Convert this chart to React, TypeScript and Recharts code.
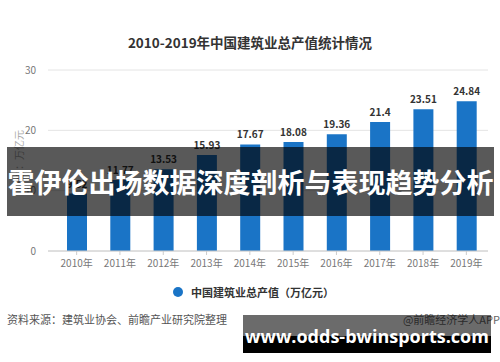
import React from "react";
import { BarChart, Bar, XAxis, YAxis, CartesianGrid, LabelList } from "recharts";

const years = ["2010年", "2011年", "2012年", "2013年", "2014年", "2015年", "2016年", "2017年", "2018年", "2019年"];
const outputValues = [9.52, 11.77, 13.53, 15.93, 17.67, 18.08, 19.36, 21.4, 23.51, 24.84];
const yTicks = [0, 10, 20, 30];
const seriesName = "中国建筑业总产值（万亿元）";
const titleText = "2010-2019年中国建筑业总产值统计情况";
const unitText = "单位：万亿元";
const sourceText = "资料来源：建筑业协会、前瞻产业研究院整理";
const creditText = "@前瞻经济学人APP";
const bannerText = "霍伊伦出场数据深度剖析与表现趋势分析";
const siteText = "www.odds-bwinsports.com";

const data = years.map((y, i) => ({ year: y, value: outputValues[i] }));

const FONT = '"Noto Sans CJK SC", "Noto Sans", sans-serif';
const BLUE = "#1a74c6";

export default function App() {
  return (
    <div style={{ position: "absolute", left: 0, top: 0, width: 500, height: 362, background: "#fff", overflow: "hidden", fontFamily: FONT }}>
      <BarChart
        width={500}
        height={362}
        data={data}
        margin={{ top: 70, right: 12, bottom: 91, left: 0 }}
      >
        <text x={250} y={48} textAnchor="middle" fontSize={13.5} fontWeight="bold" fill="#333" fontFamily={FONT}>
          {titleText}
        </text>
        <CartesianGrid horizontal vertical={false} stroke="#e4e4e4" />
        <XAxis
          dataKey="year"
          height={20}
          padding={{ left: 7, right: 0 }}
          tick={{ fontSize: 10, fill: "#777", fontFamily: FONT }}
          tickLine={{ stroke: "#ccc" }}
          axisLine={{ stroke: "#ccc" }}
          tickSize={4}
          tickMargin={5}
          interval={0}
        />
        <YAxis
          width={48}
          domain={[0, 30]}
          ticks={yTicks}
          axisLine={false}
          tickLine={false}
          tick={{ fontSize: 10, fill: "#777", fontFamily: FONT }}
          tickMargin={6}
        />
        <text
          x={20}
          y={160}
          transform="rotate(-90 20 160)"
          textAnchor="middle"
          dominantBaseline="middle"
          fontSize={10}
          fill="#aaa"
          fontFamily={FONT}
        >
          {unitText}
        </text>
        <Bar dataKey="value" name={seriesName} fill={BLUE} barSize={20} isAnimationActive={false}>
          <LabelList dataKey="value" position="top" offset={6} fontSize={10} fontWeight="bold" fill="#333" fontFamily={FONT} />
        </Bar>
      </BarChart>

      {/* legend */}
      <div style={{ position: "absolute", top: 284, left: 173, display: "flex", alignItems: "center", fontSize: 11, color: "#333", fontWeight: "bold" }}>
        <span style={{ display: "inline-block", width: 10, height: 10, borderRadius: 5, background: BLUE, marginRight: 8 }} />
        <span>{seriesName}</span>
      </div>

      {/* footer */}
      <div style={{ position: "absolute", top: 311, left: 7, fontSize: 11, color: "#555" }}>{sourceText}</div>
      <div style={{ position: "absolute", top: 311, right: 0, fontSize: 11, color: "#666" }}>{creditText}</div>

      {/* middle banner */}
      <div
        style={{
          position: "absolute",
          left: 7,
          top: 147,
          width: 487,
          height: 69,
          background: "rgba(0,0,0,0.65)",
          color: "#fff",
          fontSize: 27,
          fontWeight: "bold",
          lineHeight: "69px",
          textAlign: "center",
          whiteSpace: "nowrap",
          letterSpacing: 0,
        }}
      >
        {bannerText}
      </div>

      {/* bottom banner */}
      <div style={{ position: "absolute", left: 243, top: 315, width: 248, height: 38 }}>
        <div style={{ position: "absolute", left: 0, top: 0, width: 248, height: 21, background: "rgba(0,0,0,0.58)" }} />
        <div style={{ position: "absolute", left: 0, top: 21, width: 248, height: 17, background: "#000" }} />
        <div
          style={{
            position: "absolute",
            left: 0,
            top: 9,
            width: 248,
            textAlign: "center",
            color: "#fff",
            fontSize: 18,
            fontWeight: "bold",
            fontFamily: '"Open Sans", "DejaVu Sans", sans-serif',
            lineHeight: "24px",
            whiteSpace: "nowrap",
          }}
        >
          {siteText}
        </div>
      </div>
    </div>
  );
}
